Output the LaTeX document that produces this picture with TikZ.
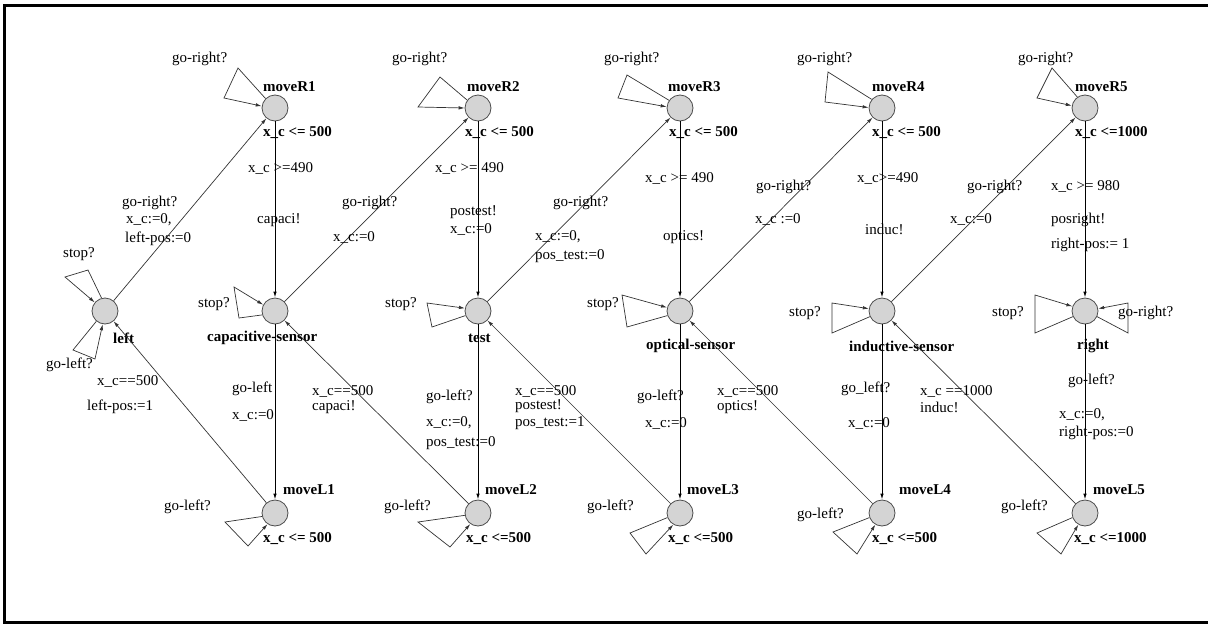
\documentclass[tikz,border=0pt]{standalone}
\usepackage{fontspec}
\setmainfont{Liberation Serif}
\usetikzlibrary{arrows.meta}
\begin{document}
\begin{tikzpicture}[x=1pt,y=-1pt,
 loc/.style={circle,draw=black!70,fill=black!17,minimum size=26pt,inner sep=0pt,line width=0.8pt},
 arr/.style={-{Latex[length=6pt,width=3.5pt]},line width=0.7pt,draw=black!80},
 varr/.style={arr,line width=1pt,draw=black},
 lbl/.style={anchor=west,inner sep=0pt,font=\fontsize{15}{17}\selectfont},
 nm/.style={anchor=west,inner sep=0pt,font=\fontsize{15}{17}\selectfont\bfseries},
]
\useasboundingbox (0,0) rectangle (1208,624);
\draw[line width=3pt] (1208,5) -- (4,5) -- (4,622) -- (1208,622);

% locations
\node[loc] (left) at (105,311) {};
\node[loc] (mR1) at (275,108) {};
\node[loc] (cap) at (275,311) {};
\node[loc] (mL1) at (275,513) {};
\node[loc] (mR2) at (478,108) {};
\node[loc] (test) at (478,311) {};
\node[loc] (mL2) at (478,513) {};
\node[loc] (mR3) at (680,108) {};
\node[loc] (opt) at (680,311) {};
\node[loc] (mL3) at (680,513) {};
\node[loc] (mR4) at (882,108) {};
\node[loc] (ind) at (882,311) {};
\node[loc] (mL4) at (882,513) {};
\node[loc] (mR5) at (1085,108) {};
\node[loc] (right) at (1085,311) {};
\node[loc] (mL5) at (1085,513) {};

% location names
\node[nm] (nR1) at (263,87) {moveR1};
\node[nm] (nR2) at (467,87) {moveR2};
\node[nm] (nR3) at (668,87) {moveR3};
\node[nm] (nR4) at (872,87) {moveR4};
\node[nm] (nR5) at (1075,87) {moveR5};
\node[nm] (nleft) at (113,338) {left};
\node[nm] (ncap) at (207,338) {capacitive-sensor};
\node[nm] (ntest) at (468,338) {test};
\node[nm] (nopt) at (646,346) {optical-sensor};
\node[nm] (nind) at (849,346) {inductive-sensor};
\node[nm] (nright) at (1077,346) {right};
\node[nm] (nL1) at (283,490) {moveL1};
\node[nm] (nL2) at (485,490) {moveL2};
\node[nm] (nL3) at (687,490) {moveL3};
\node[nm] (nL4) at (899,490) {moveL4};
\node[nm] (nL5) at (1093,490) {moveL5};

% invariants
\node[nm] (iR1) at (263,133) {x\_c <= 500};
\node[nm] (iR2) at (465,133) {x\_c <= 500};
\node[nm] (iR3) at (669,133) {x\_c <= 500};
\node[nm] (iR4) at (872,133) {x\_c <= 500};
\node[nm] (iR5) at (1075,133) {x\_c <=1000};
\node[nm] (iL1) at (263,539) {x\_c <= 500};
\node[nm] (iL2) at (466,539) {x\_c <=500};
\node[nm] (iL3) at (668,539) {x\_c <=500};
\node[nm] (iL4) at (872,539) {x\_c <=500};
\node[nm] (iL5) at (1074,539) {x\_c <=1000};

% main edges
\draw[arr] (left) -- (mR1);
\draw[arr] (cap) -- (mR2);
\draw[arr] (test) -- (mR3);
\draw[arr] (opt) -- (mR4);
\draw[arr] (ind) -- (mR5);
\draw[arr] (mL1) -- (left);
\draw[arr] (mL2) -- (cap);
\draw[arr] (mL3) -- (test);
\draw[arr] (mL4) -- (opt);
\draw[arr] (mL5) -- (ind);
\draw[varr] (mR1) -- (cap);
\draw[varr] (cap) -- (mL1);
\draw[varr] (mR2) -- (test);
\draw[varr] (test) -- (mL2);
\draw[varr] (mR3) -- (opt);
\draw[varr] (opt) -- (mL3);
\draw[varr] (mR4) -- (ind);
\draw[varr] (ind) -- (mL4);
\draw[varr] (mR5) -- (right);
\draw[varr] (right) -- (mL5);

% self loops
\draw[arr] (mR1.135) -- (238,68) -- (224,98) -- (mR1.172);
\draw[arr] (mR2.144) -- (440,77) -- (418,107) -- (mR2.180);
\draw[arr] (mR3.145) -- (627,75) -- (618,98) -- (mR3.175);
\draw[arr] (mR4.140) -- (828,72) -- (825,102) -- (mR4.178);
\draw[arr] (mR5.125) -- (1052,68) -- (1037,98) -- (mR5.170);
\draw[arr] (left.105) -- (88,270) -- (65,277) -- (left.140);
\draw[arr] (left.230) -- (73,350) -- (95,359) -- (left.260);
\draw[arr] (cap.197) -- (239,318) -- (234,287) -- (cap.152);
\draw[arr] (test.200) -- (432,327) -- (427,303) -- (test.168);
\draw[arr] (opt.200) -- (627,327) -- (622,295) -- (opt.165);
\draw[arr] (ind.205) -- (832,333) -- (832,303) -- (ind.170);
\draw[arr] (right.205) -- (1035,333) -- (1035,295) -- (right.160);
\draw[arr] (right.335) -- (1128,333) -- (1128,303) -- (right.10);
\draw[arr] (mL1.195) -- (225,522) -- (248,546) -- (mL1.236);
\draw[arr] (mL2.190) -- (418,522) -- (450,547) -- (mL2.235);
\draw[arr] (mL3.200) -- (630,533) -- (646,554) -- (mL3.240);
\draw[arr] (mL4.200) -- (833,532) -- (857,554) -- (mL4.240);
\draw[arr] (mL5.200) -- (1037,533) -- (1061,554) -- (mL5.240);

% loop labels
\node[lbl] (sR1) at (172,59) {go-right?};
\node[lbl] (sR2) at (392,59) {go-right?};
\node[lbl] (sR3) at (604,59) {go-right?};
\node[lbl] (sR4) at (797,59) {go-right?};
\node[lbl] (sR5) at (1018,59) {go-right?};
\node[lbl] (sleft1) at (63,254) {stop?};
\node[lbl] (sleft2) at (46,365) {go-left?};
\node[lbl] (scap) at (198,304) {stop?};
\node[lbl] (stest) at (385,304) {stop?};
\node[lbl] (sopt) at (587,304) {stop?};
\node[lbl] (sind) at (789,313) {stop?};
\node[lbl] (sright1) at (992,313) {stop?};
\node[lbl] (sright2) at (1118,313) {go-right?};
\node[lbl] (sL1) at (164,507) {go-left?};
\node[lbl] (sL2) at (384,507) {go-left?};
\node[lbl] (sL3) at (587,507) {go-left?};
\node[lbl] (sL4) at (797,515) {go-left?};
\node[lbl] (sL5) at (1001,507) {go-left?};

% column 1 edge labels
\node[lbl] (a1) at (122,203) {go-right?};
\node[lbl] (a2) at (126,220) {x\_c:=0,};
\node[lbl] (a3) at (125,239) {left-pos:=0};
\node[lbl] (a4) at (248,168) {x\_c >=490};
\node[lbl] (a5) at (257,220) {capaci!};
\node[lbl] (a6) at (342,203) {go-right?};
\node[lbl] (a7) at (333,237) {x\_c:=0};
\node[lbl] (a8) at (232,389) {go-left};
\node[lbl] (a9) at (232,415) {x\_c:=0};
\node[lbl] (a10) at (97,381) {x\_c==500};
\node[lbl] (a11) at (87,407) {left-pos:=1};
\node[lbl] (a12) at (312,391) {x\_c==500};
\node[lbl] (a13) at (312,407) {capaci!};

% column 2 edge labels
\node[lbl] (b1) at (435,168) {x\_c >= 490};
\node[lbl] (b2) at (450,212) {postest!};
\node[lbl] (b3) at (450,229) {x\_c:=0};
\node[lbl] (b4) at (553,203) {go-right?};
\node[lbl] (b5) at (535,237) {x\_c:=0,};
\node[lbl] (b6) at (535,256) {pos\_test:=0};
\node[lbl] (b7) at (426,397) {go-left?};
\node[lbl] (b8) at (426,423) {x\_c:=0,};
\node[lbl] (b9) at (426,443) {pos\_test:=0};
\node[lbl] (b10) at (515,391) {x\_c==500};
\node[lbl] (b11) at (515,406) {postest!};
\node[lbl] (b12) at (515,423) {pos\_test:=1};

% column 3 edge labels
\node[lbl] (c1) at (645,178) {x\_c >= 490};
\node[lbl] (c2) at (663,237) {optics!};
\node[lbl] (c3) at (756,187) {go-right?};
\node[lbl] (c4) at (755,219) {x\_c :=0};
\node[lbl] (c5) at (637,397) {go-left?};
\node[lbl] (c6) at (645,423) {x\_c:=0};
\node[lbl] (c7) at (717,391) {x\_c==500};
\node[lbl] (c8) at (717,407) {optics!};

% column 4 edge labels
\node[lbl] (d1) at (857,178) {x\_c>=490};
\node[lbl] (d2) at (865,229) {induc!};
\node[lbl] (d3) at (967,187) {go-right?};
\node[lbl] (d4) at (950,219) {x\_c:=0};
\node[lbl] (d5) at (841,389) {go\_left?};
\node[lbl] (d6) at (848,423) {x\_c:=0};
\node[lbl] (d7) at (920,391) {x\_c ==1000};
\node[lbl] (d8) at (920,407) {induc!};

% column 5 edge labels
\node[lbl] (e1) at (1051,186) {x\_c >= 980};
\node[lbl] (e2) at (1051,220) {posright!};
\node[lbl] (e3) at (1051,245) {right-pos:= 1};
\node[lbl] (e4) at (1068,381) {go-left?};
\node[lbl] (e5) at (1059,415) {x\_c:=0,};
\node[lbl] (e6) at (1059,433) {right-pos:=0};
\end{tikzpicture}
\end{document}
